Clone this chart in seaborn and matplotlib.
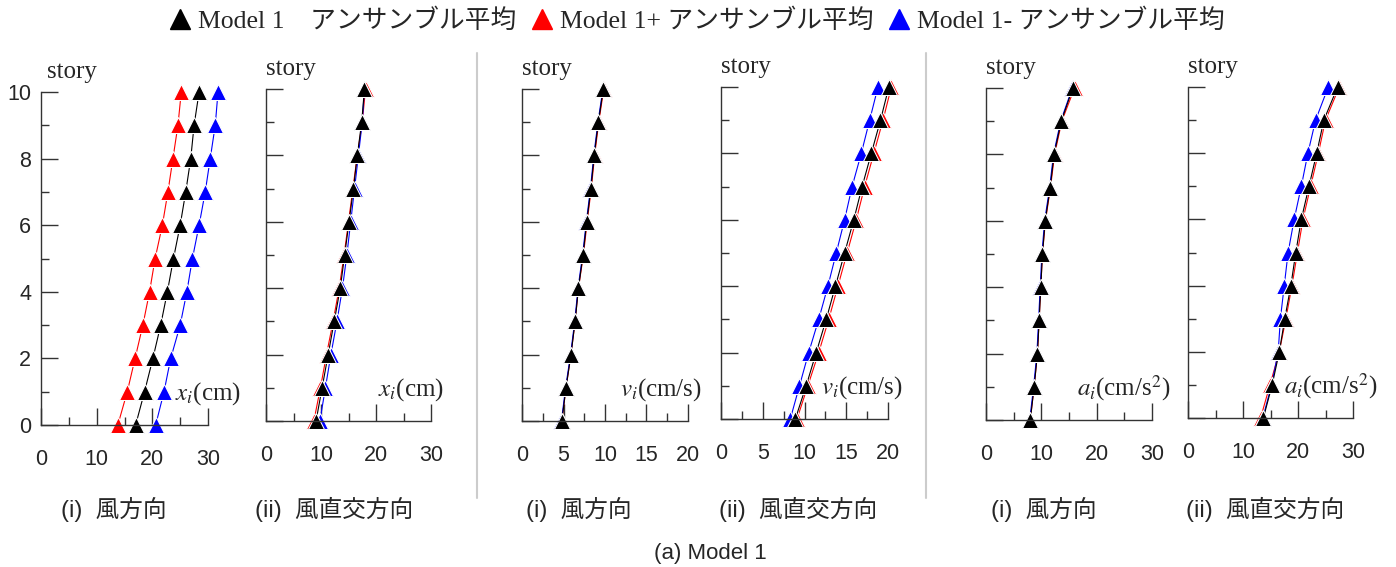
import pandas as pd
import matplotlib
matplotlib.use("Agg")
import matplotlib.pyplot as plt
import seaborn as sns
from matplotlib.lines import Line2D
from matplotlib.ticker import MultipleLocator
from matplotlib.font_manager import FontProperties

sns.set_style("ticks")
plt.rcParams['font.family'] = ['Liberation Sans', 'Noto Sans CJK JP']
plt.rcParams['mathtext.fontset'] = 'stix'

stories = list(range(11))
models = ['Model 1+', 'Model 1-', 'Model 1']   # drawing order, black on top
palette = {'Model 1': 'black', 'Model 1+': 'red', 'Model 1-': 'blue'}

# --- displacement, wind direction (cm)
disp_wind_m1 = [17.0, 18.6, 20.1, 21.5, 22.7, 23.8, 25.0, 26.0, 26.9, 27.5, 28.4]
disp_wind_p = [13.8, 15.5, 16.9, 18.3, 19.5, 20.5, 21.8, 22.8, 23.7, 24.6, 25.2]
disp_wind_m = [20.6, 22.1, 23.3, 25.0, 26.2, 27.2, 28.4, 29.5, 30.4, 31.3, 31.8]

# --- displacement, across wind (cm)
disp_cross_m1 = [9.1, 10.2, 11.3, 12.4, 13.5, 14.3, 15.1, 15.9, 16.6, 17.4, 17.9]
disp_cross_p = [8.7, 9.9, 11.0, 12.2, 13.3, 14.2, 15.0, 15.8, 16.6, 17.5, 18.1]
disp_cross_m = [9.8, 10.8, 11.8, 12.9, 13.9, 14.7, 15.4, 16.1, 16.8, 17.5, 17.9]

# --- velocity, wind direction (cm/s)
vel_wind_m1 = [4.8, 5.3, 5.9, 6.4, 6.8, 7.35, 7.8, 8.3, 8.7, 9.2, 9.8]
vel_wind_p = [4.8, 5.3, 5.9, 6.4, 6.8, 7.4, 7.85, 8.35, 8.75, 9.25, 9.85]
vel_wind_m = [4.75, 5.25, 5.85, 6.35, 6.75, 7.3, 7.75, 8.25, 8.65, 9.15, 9.75]

# --- velocity, across wind (cm/s)
vel_cross_m1 = [8.9, 10.2, 11.4, 12.6, 13.7, 14.8, 15.9, 16.9, 18.0, 19.1, 20.1]
vel_cross_p = [9.1, 10.4, 11.7, 12.9, 14.0, 15.1, 16.2, 17.2, 18.3, 19.4, 20.4]
vel_cross_m = [8.3, 9.4, 10.5, 11.7, 12.8, 13.8, 14.8, 15.7, 16.8, 17.8, 18.8]

# --- acceleration, wind direction (cm/s2)
acc_wind_m1 = [8.0, 8.7, 9.3, 9.6, 9.9, 10.2, 10.7, 11.6, 12.3, 13.6, 15.7]
acc_wind_p = [8.0, 8.7, 9.3, 9.6, 9.9, 10.2, 10.75, 11.65, 12.4, 13.7, 16.0]
acc_wind_m = [7.9, 8.6, 9.2, 9.5, 9.8, 10.1, 10.6, 11.5, 12.2, 13.5, 15.6]

# --- acceleration, across wind (cm/s2)
acc_cross_m1 = [13.7, 15.3, 16.6, 17.6, 18.7, 19.6, 20.6, 22.0, 23.4, 24.7, 27.2]
acc_cross_p = [13.2, 14.9, 16.6, 17.8, 18.9, 19.9, 20.9, 22.3, 23.7, 25.0, 27.5]
acc_cross_m = [13.6, 15.2, 16.4, 16.8, 17.5, 18.2, 19.3, 20.6, 21.8, 23.2, 25.5]

panels = [
    {'data': [disp_wind_p, disp_wind_m, disp_wind_m1], 'xmax': 30, 'major': 10, 'minor': 5,
     'label': r'$x_i$(cm)', 'lx': 0.80, 'rect': (41, 92, 167, 333)},
    {'data': [disp_cross_p, disp_cross_m, disp_cross_m1], 'xmax': 30, 'major': 10, 'minor': 5,
     'label': r'$x_i$(cm)', 'lx': 0.68, 'rect': (266, 89, 165, 332)},
    {'data': [vel_wind_p, vel_wind_m, vel_wind_m1], 'xmax': 20, 'major': 5, 'minor': 2.5,
     'label': r'$v_i$(cm/s)', 'lx': 0.59, 'rect': (522, 89, 166, 332)},
    {'data': [vel_cross_p, vel_cross_m, vel_cross_m1], 'xmax': 20, 'major': 5, 'minor': 2.5,
     'label': r'$v_i$(cm/s)', 'lx': 0.60, 'rect': (721, 87, 167, 332)},
    {'data': [acc_wind_p, acc_wind_m, acc_wind_m1], 'xmax': 30, 'major': 10, 'minor': 5,
     'label': r'$a_i$(cm/s$^2$)', 'lx': 0.55, 'rect': (986, 88, 166, 332)},
    {'data': [acc_cross_p, acc_cross_m, acc_cross_m1], 'xmax': 30, 'major': 10, 'minor': 5,
     'label': r'$a_i$(cm/s$^2$)', 'lx': 0.58, 'rect': (1188, 87, 165, 331)},
]

W, H = 1396, 567
fig = plt.figure(figsize=(W / 100, H / 100), dpi=100)

spine_col = '#333333'
for i, p in enumerate(panels):
    x0, y0, w, h = p['rect']
    ax = fig.add_axes([x0 / W, 1 - (y0 + h) / H, w / W, h / H])

    df = pd.DataFrame({
        'story': stories * 3,
        'value': p['data'][0] + p['data'][1] + p['data'][2],
        'model': [m for m in models for _ in stories],
    })
    sns.lineplot(data=df, x='value', y='story', hue='model', hue_order=models,
                 palette=palette, marker='^', markersize=11, linewidth=0.8,
                 sort=False, estimator=None, legend=False, clip_on=False, ax=ax)

    ax.set_xlim(0, p['xmax'])
    ax.set_ylim(0, 10)
    ax.set_xlabel('')
    ax.set_ylabel('')
    sns.despine(ax=ax)
    for s in ['left', 'bottom']:
        ax.spines[s].set_color(spine_col)
        ax.spines[s].set_linewidth(1.0)

    ax.xaxis.set_major_locator(MultipleLocator(p['major']))
    ax.xaxis.set_minor_locator(MultipleLocator(p['minor']))
    ax.yaxis.set_major_locator(MultipleLocator(2))
    ax.yaxis.set_minor_locator(MultipleLocator(1))
    ax.tick_params(which='major', direction='in', length=12, width=1, color=spine_col, labelsize=15.5)
    ax.tick_params(which='minor', direction='in', length=6, width=1, color=spine_col)
    ax.tick_params(axis='x', which='major', pad=17)
    ax.tick_params(axis='y', which='major', pad=7, labelleft=(i == 0))

    ax.text(0.035 if i == 0 else 0.0, 1.042, 'story', transform=ax.transAxes,
            family='Liberation Serif', fontsize=18, ha='left', va='baseline')
    ax.text(p['lx'], 0.095, p['label'], transform=ax.transAxes,
            family='Liberation Serif', fontsize=18, ha='left', va='center')

# sub captions
sub_text = ['(i)  風方向', '(ii)  風直交方向'] * 3
sub_x = [114, 334, 579, 798, 1044, 1265]
for t, sx in zip(sub_text, sub_x):
    fig.text(sx / W, 1 - 509 / H, t, ha='center', va='center', fontsize=17)
fig.text(710 / W, 1 - 553 / H, '(a) Model 1', ha='center', va='center', fontsize=16)

# grey separators between groups
for sx in [477, 926]:
    fig.add_artist(Line2D([sx / W, sx / W], [1 - 53 / H, 1 - 498 / H], color='#cccccc', lw=1.5))

# legend on top
handles = [Line2D([], [], marker='^', ls='none', color=c, markersize=14.5)
           for c in ['black', 'red', 'blue']]
labels = ['Model 1\u3000アンサンブル平均', 'Model 1+ アンサンブル平均', 'Model 1- アンサンブル平均']
fig.legend(handles, labels, loc='center', bbox_to_anchor=(697 / W, 1 - 21 / H), ncol=3,
           frameon=False, prop=FontProperties(family=['Liberation Serif', 'Noto Sans CJK JP'], size=18.5),
           handlelength=0.8, handletextpad=0.3, columnspacing=0.6, borderaxespad=0, borderpad=0)

fig.savefig('out.png', dpi=100)
